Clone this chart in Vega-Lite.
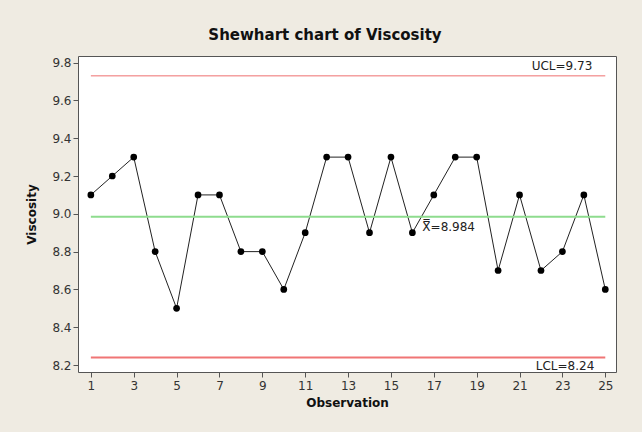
{
  "$schema": "https://vega.github.io/schema/vega-lite/v6.json",
  "width": 538,
  "height": 316,
  "autosize": {"type": "none"},
  "padding": {"left": 78, "top": 56, "right": 26, "bottom": 60},
  "background": "#EFEBE2",
  "title": {
    "text": "Shewhart chart of Viscosity",
    "font": "DejaVu Sans",
    "fontSize": 15,
    "fontWeight": "bold",
    "color": "#111111",
    "anchor": "middle",
    "offset": 13,
    "dx": -22
  },
  "config": {
    "view": {"fill": "white", "stroke": "#555555", "strokeWidth": 1},
    "axis": {
      "domain": false,
      "grid": false,
      "tickColor": "#555555",
      "tickSize": 5,
      "labelFont": "DejaVu Sans",
      "labelFontSize": 12,
      "labelColor": "#333333",
      "labelOverlap": false,
      "titleFont": "DejaVu Sans",
      "titleFontSize": 12,
      "titleFontWeight": "bold",
      "titleColor": "#111111"
    }
  },
  "datasets": {
    "obs": [
      {"Observation": 1, "Viscosity": 9.1},
      {"Observation": 2, "Viscosity": 9.2},
      {"Observation": 3, "Viscosity": 9.3},
      {"Observation": 4, "Viscosity": 8.8},
      {"Observation": 5, "Viscosity": 8.5},
      {"Observation": 6, "Viscosity": 9.1},
      {"Observation": 7, "Viscosity": 9.1},
      {"Observation": 8, "Viscosity": 8.8},
      {"Observation": 9, "Viscosity": 8.8},
      {"Observation": 10, "Viscosity": 8.6},
      {"Observation": 11, "Viscosity": 8.9},
      {"Observation": 12, "Viscosity": 9.3},
      {"Observation": 13, "Viscosity": 9.3},
      {"Observation": 14, "Viscosity": 8.9},
      {"Observation": 15, "Viscosity": 9.3},
      {"Observation": 16, "Viscosity": 8.9},
      {"Observation": 17, "Viscosity": 9.1},
      {"Observation": 18, "Viscosity": 9.3},
      {"Observation": 19, "Viscosity": 9.3},
      {"Observation": 20, "Viscosity": 8.7},
      {"Observation": 21, "Viscosity": 9.1},
      {"Observation": 22, "Viscosity": 8.7},
      {"Observation": 23, "Viscosity": 8.8},
      {"Observation": 24, "Viscosity": 9.1},
      {"Observation": 25, "Viscosity": 8.6}
    ],
    "limits": [
      {"kind": "UCL", "value": 9.73, "label": "UCL=9.73"},
      {"kind": "CL", "value": 8.984, "label": "X̿=8.984"},
      {"kind": "LCL", "value": 8.24, "label": "LCL=8.24"}
    ]
  },
  "layer": [
    {
      "data": {"name": "obs"},
      "mark": {"type": "line", "color": "#222222", "strokeWidth": 1},
      "encoding": {
        "x": {
          "field": "Observation",
          "type": "quantitative",
          "title": "Observation",
          "scale": {"domain": [0.4, 25.5], "nice": false, "zero": false},
          "axis": {"values": [1, 3, 5, 7, 9, 11, 13, 15, 17, 19, 21, 23, 25], "labelPadding": 3, "titlePadding": 6}
        },
        "y": {
          "field": "Viscosity",
          "type": "quantitative",
          "title": "Viscosity",
          "scale": {"domain": [8.163, 9.835], "nice": false, "zero": false},
          "axis": {"values": [8.2, 8.4, 8.6, 8.8, 9.0, 9.2, 9.4, 9.6, 9.8], "format": ".1f", "labelPadding": 2, "titlePadding": 13, "tickCount": 9}
        }
      }
    },
    {
      "data": {"name": "limits"},
      "transform": [{"filter": "datum.kind === 'UCL'"}],
      "mark": {"type": "rule", "color": "#EE7070", "strokeWidth": 1},
      "encoding": {
        "x": {"datum": 1, "type": "quantitative"},
        "x2": {"datum": 25},
        "y": {"field": "value", "type": "quantitative", "title": "Viscosity"}
      }
    },
    {
      "data": {"name": "limits"},
      "transform": [{"filter": "datum.kind === 'LCL'"}],
      "mark": {"type": "rule", "color": "#F07575", "strokeWidth": 2},
      "encoding": {
        "x": {"datum": 1, "type": "quantitative"},
        "x2": {"datum": 25},
        "y": {"field": "value", "type": "quantitative", "title": "Viscosity"}
      }
    },
    {
      "data": {"name": "limits"},
      "transform": [{"filter": "datum.kind === 'CL'"}],
      "mark": {"type": "rule", "color": "#8EDC8E", "strokeWidth": 2},
      "encoding": {
        "x": {"datum": 1, "type": "quantitative"},
        "x2": {"datum": 25},
        "y": {"field": "value", "type": "quantitative", "title": "Viscosity"}
      }
    },
    {
      "data": {"name": "limits"},
      "transform": [{"filter": "datum.kind === 'UCL'"}],
      "mark": {"type": "text", "align": "right", "baseline": "bottom", "dx": -13, "dy": -3, "font": "DejaVu Sans", "fontSize": 12, "color": "#222222"},
      "encoding": {
        "x": {"datum": 25, "type": "quantitative"},
        "y": {"field": "value", "type": "quantitative", "title": "Viscosity"},
        "text": {"field": "label"}
      }
    },
    {
      "data": {"name": "limits"},
      "transform": [{"filter": "datum.kind === 'LCL'"}],
      "mark": {"type": "text", "align": "right", "baseline": "top", "dx": -11, "dy": 4, "font": "DejaVu Sans", "fontSize": 12, "color": "#222222"},
      "encoding": {
        "x": {"datum": 25, "type": "quantitative"},
        "y": {"field": "value", "type": "quantitative", "title": "Viscosity"},
        "text": {"field": "label"}
      }
    },
    {
      "data": {"name": "limits"},
      "transform": [{"filter": "datum.kind === 'CL'"}],
      "mark": {"type": "text", "align": "left", "baseline": "top", "dx": 10, "dy": 5, "font": "DejaVu Sans", "fontSize": 12, "color": "#222222"},
      "encoding": {
        "x": {"datum": 16, "type": "quantitative"},
        "y": {"field": "value", "type": "quantitative", "title": "Viscosity"},
        "text": {"field": "label"}
      }
    },
    {
      "data": {"name": "obs"},
      "mark": {"type": "point", "filled": true, "color": "#000000", "size": 45, "opacity": 1},
      "encoding": {
        "x": {"field": "Observation", "type": "quantitative"},
        "y": {"field": "Viscosity", "type": "quantitative"}
      }
    }
  ]
}
